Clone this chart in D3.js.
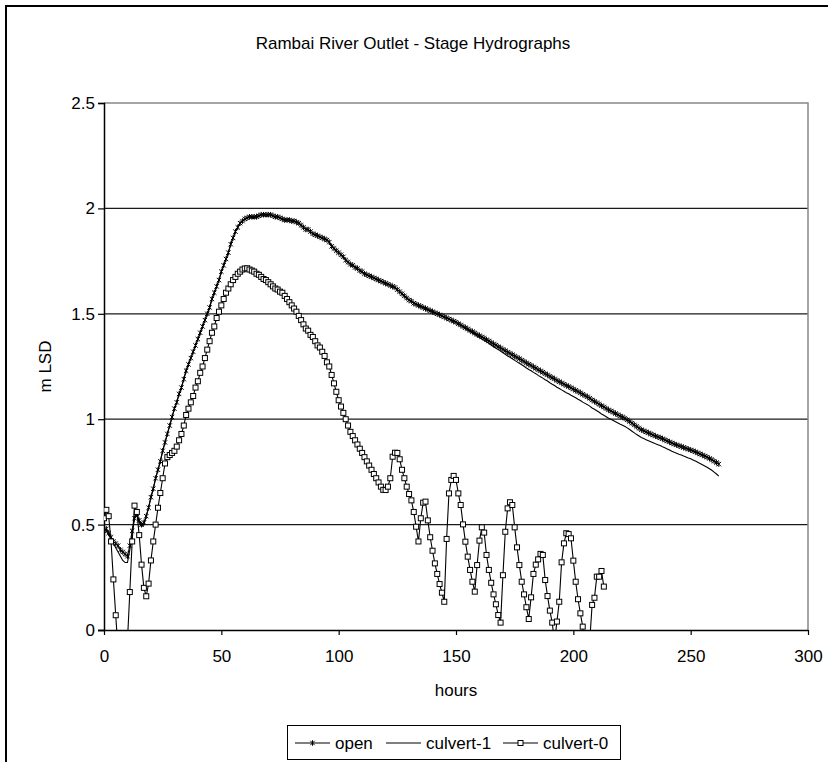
<!DOCTYPE html>
<html>
<head>
<meta charset="utf-8">
<style>
  body { margin: 0; background: #fff; font-family: Arial, "Liberation Sans", sans-serif; }
  svg { display: block; }
  .tick text { font-family: Arial, "Liberation Sans", sans-serif; }
</style>
<script src="https://d3js.org/d3.v7.min.js"></script>
</head>
<body>
<svg id="chart"></svg>
<script>
  // hourly time steps of the model output
  const hours = d3.range(0, 263);

  const openValues = [
    0.47, 0.48, 0.46, 0.44, 0.42, 0.41, 0.40, 0.38, 0.37, 0.36,
    0.35, 0.40, 0.47, 0.53, 0.55, 0.52, 0.50, 0.51, 0.54, 0.58,
    0.63, 0.67, 0.72, 0.76, 0.80, 0.85, 0.89, 0.93, 0.97, 1.01,
    1.05, 1.08, 1.12, 1.15, 1.19, 1.23, 1.26, 1.29, 1.32, 1.35,
    1.38, 1.41, 1.44, 1.47, 1.50, 1.53, 1.57, 1.60, 1.63, 1.66,
    1.70, 1.73, 1.76, 1.79, 1.83, 1.86, 1.89, 1.91, 1.93, 1.94,
    1.95, 1.955, 1.96, 1.96, 1.96, 1.96, 1.965, 1.97, 1.97, 1.97,
    1.97, 1.97, 1.965, 1.96, 1.96, 1.955, 1.95, 1.945, 1.945, 1.945,
    1.94, 1.94, 1.935, 1.93, 1.92, 1.91, 1.90, 1.90, 1.89, 1.88,
    1.875, 1.87, 1.865, 1.86, 1.855, 1.85, 1.84, 1.82, 1.81, 1.80,
    1.79, 1.78, 1.77, 1.755, 1.745, 1.735, 1.73, 1.72, 1.715, 1.705,
    1.70, 1.69, 1.685, 1.68, 1.675, 1.67, 1.665, 1.66, 1.655, 1.65,
    1.645, 1.64, 1.635, 1.63, 1.625, 1.615, 1.605, 1.595, 1.585, 1.575,
    1.565, 1.56, 1.55, 1.545, 1.54, 1.535, 1.53, 1.525, 1.52, 1.515,
    1.51, 1.505, 1.50, 1.495, 1.49, 1.485, 1.48, 1.475, 1.47, 1.465,
    1.46, 1.453, 1.447, 1.440, 1.434, 1.428, 1.421, 1.415, 1.409, 1.402,
    1.396, 1.390, 1.384, 1.377, 1.371, 1.364, 1.357, 1.351, 1.344, 1.338,
    1.331, 1.325, 1.318, 1.312, 1.306, 1.299, 1.293, 1.287, 1.280, 1.274,
    1.267, 1.261, 1.255, 1.248, 1.242, 1.235, 1.229, 1.223, 1.216, 1.210,
    1.203, 1.197, 1.191, 1.184, 1.178, 1.172, 1.166, 1.160, 1.155, 1.149,
    1.143, 1.137, 1.131, 1.125, 1.118, 1.112, 1.106, 1.099, 1.091, 1.085,
    1.078, 1.071, 1.064, 1.058, 1.051, 1.044, 1.039, 1.033, 1.027, 1.021,
    1.015, 1.010, 1.004, 0.997, 0.989, 0.981, 0.973, 0.965, 0.957, 0.950,
    0.945, 0.940, 0.935, 0.930, 0.925, 0.920, 0.916, 0.912, 0.907, 0.902,
    0.897, 0.892, 0.887, 0.882, 0.878, 0.874, 0.870, 0.866, 0.862, 0.858,
    0.854, 0.850, 0.845, 0.840, 0.835, 0.830, 0.825, 0.820, 0.814, 0.808,
    0.801, 0.794, 0.787
  ];

  const culvert1Values = [
    0.47, 0.47, 0.45, 0.43, 0.41, 0.39, 0.37, 0.35, 0.33, 0.32,
    0.32, 0.38, 0.46, 0.53, 0.55, 0.51, 0.49, 0.50, 0.54, 0.58,
    0.63, 0.67, 0.72, 0.76, 0.80, 0.85, 0.89, 0.93, 0.97, 1.01,
    1.05, 1.08, 1.12, 1.15, 1.19, 1.23, 1.26, 1.29, 1.32, 1.35,
    1.38, 1.41, 1.44, 1.47, 1.50, 1.53, 1.57, 1.60, 1.63, 1.66,
    1.70, 1.73, 1.76, 1.79, 1.83, 1.86, 1.89, 1.91, 1.93, 1.94,
    1.95, 1.955, 1.96, 1.96, 1.96, 1.96, 1.965, 1.97, 1.97, 1.97,
    1.97, 1.97, 1.965, 1.96, 1.96, 1.955, 1.95, 1.945, 1.945, 1.945,
    1.94, 1.94, 1.935, 1.93, 1.92, 1.91, 1.90, 1.90, 1.89, 1.88,
    1.875, 1.87, 1.865, 1.86, 1.855, 1.85, 1.84, 1.82, 1.81, 1.80,
    1.79, 1.78, 1.77, 1.755, 1.745, 1.735, 1.73, 1.72, 1.715, 1.705,
    1.70, 1.69, 1.685, 1.68, 1.675, 1.67, 1.665, 1.66, 1.655, 1.65,
    1.645, 1.64, 1.635, 1.63, 1.625, 1.615, 1.605, 1.595, 1.585, 1.575,
    1.565, 1.56, 1.55, 1.545, 1.54, 1.535, 1.53, 1.525, 1.52, 1.515,
    1.51, 1.505, 1.50, 1.495, 1.49, 1.485, 1.48, 1.475, 1.47, 1.465,
    1.46, 1.452, 1.445, 1.438, 1.431, 1.424, 1.416, 1.409, 1.403, 1.395,
    1.388, 1.381, 1.374, 1.367, 1.360, 1.352, 1.344, 1.337, 1.330, 1.323,
    1.315, 1.308, 1.300, 1.294, 1.287, 1.279, 1.272, 1.265, 1.258, 1.251,
    1.243, 1.236, 1.230, 1.222, 1.216, 1.208, 1.201, 1.195, 1.187, 1.181,
    1.173, 1.166, 1.160, 1.152, 1.146, 1.139, 1.133, 1.126, 1.121, 1.114,
    1.108, 1.102, 1.095, 1.089, 1.081, 1.075, 1.069, 1.062, 1.053, 1.047,
    1.040, 1.033, 1.025, 1.019, 1.012, 1.005, 1.000, 0.994, 0.988, 0.982,
    0.976, 0.971, 0.965, 0.959, 0.951, 0.943, 0.935, 0.927, 0.920, 0.913,
    0.908, 0.903, 0.898, 0.893, 0.888, 0.883, 0.879, 0.875, 0.869, 0.864,
    0.859, 0.854, 0.848, 0.843, 0.839, 0.834, 0.830, 0.825, 0.821, 0.816,
    0.812, 0.807, 0.802, 0.796, 0.790, 0.784, 0.778, 0.772, 0.765, 0.758,
    0.749, 0.740, 0.730
  ];

  // culvert-0 stops at hour 213; negative values run below the axis and are clipped
  const culvert0Values = [
    0.53, 0.57, 0.54, 0.42, 0.24, 0.07, -0.10, -0.25, -0.30, -0.25,
    -0.05, 0.18, 0.42, 0.59, 0.56, 0.45, 0.31, 0.20, 0.16, 0.22,
    0.33, 0.42, 0.50, 0.58, 0.65, 0.72, 0.79, 0.82, 0.83, 0.84,
    0.85, 0.87, 0.90, 0.93, 0.97, 1.02, 1.05, 1.08, 1.11, 1.15,
    1.18, 1.22, 1.25, 1.29, 1.33, 1.37, 1.41, 1.44, 1.48, 1.51,
    1.54, 1.57, 1.60, 1.62, 1.64, 1.66, 1.675, 1.69, 1.70, 1.71,
    1.715, 1.716, 1.71, 1.705, 1.70, 1.69, 1.685, 1.675, 1.665, 1.66,
    1.65, 1.64, 1.63, 1.62, 1.615, 1.605, 1.60, 1.585, 1.57, 1.555,
    1.54, 1.525, 1.51, 1.49, 1.47, 1.45, 1.43, 1.42, 1.40, 1.39,
    1.37, 1.35, 1.34, 1.32, 1.30, 1.27, 1.25, 1.21, 1.17, 1.13,
    1.09, 1.06, 1.03, 1.00, 0.97, 0.94, 0.92, 0.90, 0.88, 0.86,
    0.84, 0.82, 0.80, 0.78, 0.76, 0.74, 0.72, 0.70, 0.68, 0.665,
    0.664, 0.68, 0.72, 0.822, 0.841, 0.84, 0.81, 0.76, 0.72, 0.68,
    0.645, 0.615, 0.56, 0.49, 0.42, 0.53, 0.604, 0.609, 0.52, 0.44,
    0.376, 0.316, 0.266, 0.218, 0.177, 0.134, 0.432, 0.648, 0.712, 0.731,
    0.712, 0.648, 0.593, 0.501, 0.419, 0.348, 0.285, 0.229, 0.182, 0.308,
    0.424, 0.487, 0.462, 0.356, 0.285, 0.224, 0.169, 0.122, 0.071, 0.035,
    0.26, 0.466, 0.577, 0.606, 0.593, 0.487, 0.392, 0.308, 0.229, 0.169,
    0.108, 0.052, 0.155, 0.266, 0.31, 0.335, 0.361, 0.356, 0.237, 0.161,
    0.092, 0.035, -0.06, 0.04, 0.134, 0.321, 0.411, 0.459, 0.455, 0.435,
    0.329, 0.229, 0.146, 0.079, 0.016, -0.12, -0.15, -0.05, 0.119, 0.153,
    0.253, 0.253, 0.28, 0.206
  ];

  const seriesNames = ["open", "culvert-1", "culvert-0"];
  const xTicks = [0, 50, 100, 150, 200, 250, 300];
  const yTicks = [0, 0.5, 1, 1.5, 2, 2.5];

  const width = 828;
  const height = 762;
  const fontSize = 17;

  const svg = d3.select("#chart")
    .attr("width", width)
    .attr("height", height);

  // chart area frame (runs past the right and bottom edges of the picture)
  svg.append("rect")
    .attr("x", 6).attr("y", 6)
    .attr("width", 860).attr("height", 820)
    .attr("fill", "#fff")
    .attr("stroke", "#000")
    .attr("stroke-width", 2);

  let xScale = d3.scaleLinear().domain([0, 300]).range([104, 808]);
  let yScale = d3.scaleLinear().domain([0, 2.5]).range([630, 103]);

  // gridlines
  svg.append("g")
    .selectAll("line")
    .data(yTicks.filter(t => t > 0 && t < 2.5))
    .enter().append("line")
    .attr("x1", xScale(0)).attr("x2", xScale(300))
    .attr("y1", d => yScale(d)).attr("y2", d => yScale(d))
    .attr("stroke", "#1a1a1a")
    .attr("stroke-width", 1.3);

  // grey plot area border on top and right
  svg.append("path")
    .attr("d", `M${xScale(0)},${yScale(2.5)}H${xScale(300)}V${yScale(0)}`)
    .attr("fill", "none")
    .attr("stroke", "#888")
    .attr("stroke-width", 1.5);

  // axes
  let axisY = d3.axisLeft(yScale)
    .tickValues(yTicks)
    .tickSize(6)
    .tickPadding(3)
    .tickFormat(d3.format("~g"));
  let gy = svg.append("g")
    .attr("transform", `translate(${xScale(0)},0)`)
    .call(axisY);

  let axisX = d3.axisBottom(xScale)
    .tickValues(xTicks)
    .tickSize(5)
    .tickPadding(15);
  let gx = svg.append("g")
    .attr("transform", `translate(0,${yScale(0)})`)
    .call(axisX);

  [gx, gy].forEach(g => {
    g.select(".domain").attr("stroke", "#000").attr("stroke-width", 1.5);
    g.selectAll(".tick line").attr("stroke", "#000").attr("stroke-width", 1.2);
    g.selectAll(".tick text")
      .attr("fill", "#000")
      .style("font-size", fontSize + "px");
  });
  gx.select(".domain").attr("d", `M${xScale(0) - 6},0.5H${xScale(300)}`);

  // series
  svg.append("clipPath").attr("id", "plotClip")
    .append("rect")
    .attr("x", xScale(0)).attr("y", yScale(2.5))
    .attr("width", xScale(300) - xScale(0))
    .attr("height", yScale(0) - yScale(2.5));

  const openData = hours.map((h, i) => ({ h, v: openValues[i] }));
  const culvert1Data = hours.map((h, i) => ({ h, v: culvert1Values[i] }));
  const culvert0Data = culvert0Values.map((v, i) => ({ h: hours[i], v }));

  let line = d3.line()
    .x(d => xScale(d.h))
    .y(d => yScale(d.v));

  let plot = svg.append("g").attr("clip-path", "url(#plotClip)");

  [culvert1Data, culvert0Data, openData].forEach(data => {
    plot.append("path")
      .datum(data)
      .attr("d", line)
      .attr("fill", "none")
      .attr("stroke", "#000")
      .attr("stroke-width", 1.1);
  });

  // star marker of the open series: an x with a short vertical bar
  function drawStar(g, cx, cy) {
    let s = 2.2;
    g.append("path")
      .attr("d", `M${cx - s},${cy - s}L${cx + s},${cy + s}M${cx - s},${cy + s}L${cx + s},${cy - s}M${cx},${cy - s - 0.6}V${cy + s + 0.6}`)
      .attr("stroke", "#000")
      .attr("stroke-width", 1)
      .attr("fill", "none");
  }

  function drawSquare(g, cx, cy) {
    g.append("rect")
      .attr("x", cx - 2.5).attr("y", cy - 2.5)
      .attr("width", 5).attr("height", 5)
      .attr("fill", "#fff")
      .attr("stroke", "#000")
      .attr("stroke-width", 1);
  }

  let starLayer = plot.append("g");
  openData.forEach(d => drawStar(starLayer, xScale(d.h), yScale(d.v)));

  let squareLayer = plot.append("g");
  culvert0Data.filter(d => d.v >= 0).forEach(d => drawSquare(squareLayer, xScale(d.h), yScale(d.v)));

  // title and axis titles
  svg.append("text")
    .attr("x", 413).attr("y", 49)
    .attr("text-anchor", "middle")
    .style("font-size", fontSize + "px")
    .text("Rambai River Outlet - Stage Hydrographs");

  svg.append("text")
    .attr("x", 456).attr("y", 696)
    .attr("text-anchor", "middle")
    .style("font-size", fontSize + "px")
    .text("hours");

  svg.append("text")
    .attr("transform", `translate(51,${(yScale(0) + yScale(2.5)) / 2}) rotate(-90)`)
    .attr("text-anchor", "middle")
    .style("font-size", fontSize + "px")
    .text("m LSD");

  // legend
  let legend = svg.append("g");
  legend.append("rect")
    .attr("x", 287.5).attr("y", 725.5)
    .attr("width", 333).attr("height", 34)
    .attr("fill", "#fff")
    .attr("stroke", "#000")
    .attr("stroke-width", 1);

  const legendX = [295, 386, 503];
  const legendY = 743;
  seriesNames.forEach((name, i) => {
    let x0 = legendX[i];
    legend.append("line")
      .attr("x1", x0).attr("x2", x0 + 35)
      .attr("y1", legendY).attr("y2", legendY)
      .attr("stroke", "#000").attr("stroke-width", 1.1);
    if (name === "open") drawStar(legend, x0 + 17.5, legendY);
    if (name === "culvert-0") drawSquare(legend, x0 + 17.5, legendY);
    legend.append("text")
      .attr("x", x0 + 40).attr("y", legendY + 6)
      .style("font-size", fontSize + "px")
      .text(name);
  });
</script>
</body>
</html>
